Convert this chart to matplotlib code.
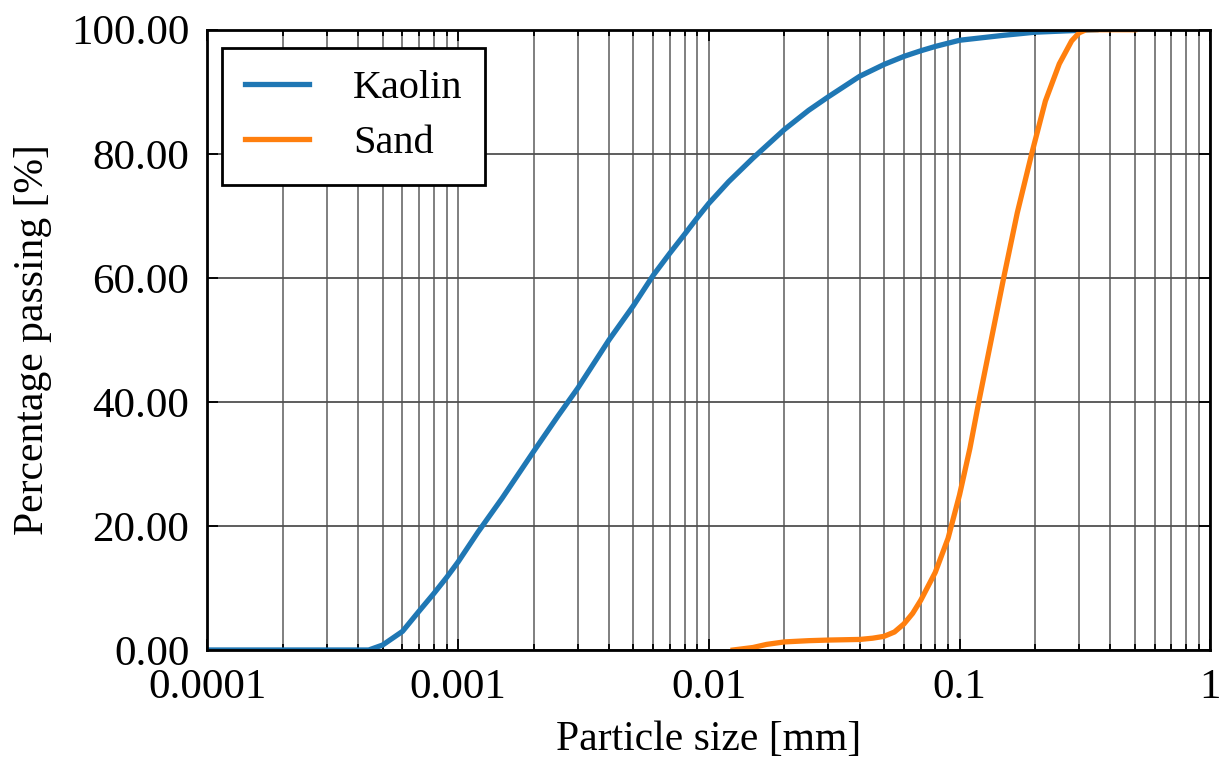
import matplotlib
matplotlib.use("Agg")
import matplotlib.pyplot as plt
from matplotlib.ticker import FixedLocator, FixedFormatter, FormatStrFormatter, LogLocator

# particle size distribution
kaolin_size = [1e-4, 4e-4, 4.4e-4, 5e-4, 6e-4, 7e-4, 8e-4, 9e-4, 1e-3, 1.2e-3,
               1.5e-3, 2e-3, 2.5e-3, 3e-3, 4e-3, 5e-3, 6e-3, 7e-3, 8e-3, 9e-3,
               1e-2, 1.2e-2, 1.5e-2, 2e-2, 2.5e-2, 3e-2, 4e-2, 5e-2, 6e-2, 7e-2,
               8e-2, 0.1, 0.15, 0.2, 0.3, 0.35]
kaolin_pass = [0, 0, 0, 0.8, 3.0, 6.3, 9.1, 11.7, 14.2, 19.0,
               24.5, 32.0, 37.7, 42.2, 50.0, 55.5, 60.4, 64.0, 67.0, 69.7,
               72.0, 75.5, 79.3, 83.9, 87.0, 89.2, 92.5, 94.4, 95.7, 96.6,
               97.3, 98.3, 99.1, 99.6, 99.9, 100.0]

sand_size = [0.0125, 0.015, 0.017, 0.02, 0.025, 0.03, 0.04, 0.045, 0.05, 0.055,
             0.06, 0.065, 0.07, 0.08, 0.09, 0.1, 0.11, 0.12, 0.13, 0.15,
             0.17, 0.194, 0.22, 0.25, 0.28, 0.3, 0.32, 0.5]
sand_pass = [0, 0.4, 0.9, 1.3, 1.5, 1.6, 1.7, 1.9, 2.2, 2.9,
             4.2, 5.9, 8.0, 12.5, 18.0, 25.0, 32.5, 40.5, 47.5, 60.0,
             70.5, 80.0, 88.5, 94.5, 98.2, 99.5, 100.0, 100.0]

x_ticks = [0.0001, 0.001, 0.01, 0.1, 1]
x_labels = ["0.0001", "0.001", "0.01", "0.1", "1"]
y_ticks = [0, 20, 40, 60, 80, 100]

plt.rcParams["font.family"] = ["Liberation Serif", "DejaVu Serif"]
plt.rcParams["font.size"] = 30

fig = plt.figure(figsize=(12.2, 7.62), dpi=100)
ax = fig.add_axes([0.170, 0.147, 0.822, 0.814])

ax.plot(kaolin_size, kaolin_pass, color="#1f77b4", linewidth=3.8, label="Kaolin")
ax.plot(sand_size, sand_pass, color="#ff7f0e", linewidth=3.8, label="Sand")

ax.set_xscale("log")
ax.set_xlim(1e-4, 1)
ax.set_ylim(0, 100)
ax.xaxis.set_major_locator(FixedLocator(x_ticks))
ax.xaxis.set_major_formatter(FixedFormatter(x_labels))
ax.xaxis.set_minor_locator(LogLocator(base=10, subs=range(2, 10)))
ax.set_yticks(y_ticks)
ax.yaxis.set_major_formatter(FormatStrFormatter("%.2f"))

ax.grid(True, which="both", axis="x", color="#7f7f7f", linewidth=1.4)
ax.grid(True, which="major", axis="y", color="#505050", linewidth=1.3)
ax.set_axisbelow(True)

ax.tick_params(which="both", direction="in", top=True, right=True, width=1.3)
ax.tick_params(which="major", length=8, labelsize=31, pad=13)
ax.tick_params(which="minor", length=4)
for s in ax.spines.values():
    s.set_linewidth(2)
    s.set_color("black")

ax.set_xlabel("Particle size [mm]", fontsize=30, labelpad=10)
ax.set_ylabel("Percentage passing [%]", fontsize=30, labelpad=14)

leg = ax.legend(loc="upper left", bbox_to_anchor=(0.015, 0.971), borderaxespad=0,
                fontsize=29, fancybox=False, framealpha=1, edgecolor="black",
                handlelength=1.6, handletextpad=1.1, borderpad=0.55,
                labelspacing=0.45)
leg.get_frame().set_linewidth(2)

fig.savefig("out.png", dpi=100)
